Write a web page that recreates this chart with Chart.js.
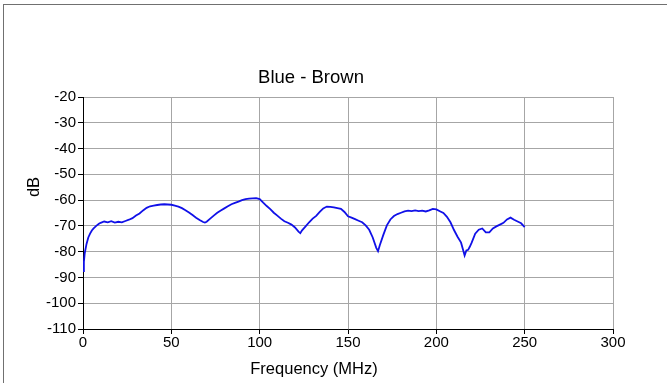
<!DOCTYPE html>
<html>
<head>
<meta charset="utf-8">
<script src="https://cdn.jsdelivr.net/npm/chart.js@4/dist/chart.umd.min.js"></script>
<style>
  html, body { margin: 0; padding: 0; background: #fff; }
  #wrap { width: 667px; height: 383px; }
</style>
</head>
<body>
<div id="wrap"><canvas id="chart" width="667" height="383"></canvas></div>
<script>
const chartTitle = "Blue - Brown";
const xTitle = "Frequency (MHz)";
const yTitle = "dB";

// frequency (MHz)
const freqs = [
    0, 0.5, 1, 2, 3, 4, 5, 6, 7.5, 9, 10, 12, 14, 16, 18, 20, 22, 24, 26, 28,
    30, 32, 34, 36, 38, 40, 42, 44, 46, 48, 50, 52, 54, 56, 58, 60, 62, 64, 66, 68,
    69, 70, 72, 74, 76, 78, 80, 82, 84, 86, 88, 90, 92, 94, 96, 98, 100, 102, 104, 106,
    108, 110, 112, 114, 116, 118, 120, 122, 123, 124, 126, 128, 130, 132, 134, 136, 138, 140, 142, 144,
    146, 148, 150, 152, 154, 156, 158, 160, 162, 164, 166, 167, 168, 170, 172, 174, 176, 178, 180, 182,
    184, 186, 188, 190, 192, 194, 196, 198, 200, 202, 204, 206, 208, 210, 212, 214, 215, 216, 217, 218,
    219, 220, 222, 224, 226, 228, 230, 232, 234, 236, 238, 240, 242, 244, 246, 248, 250
];

// attenuation (dB) at each frequency above
const dbValues = [
    -87.5, -84, -80.5, -77, -74.5, -73, -71.8, -71, -70, -69.2, -68.8, -68.3, -68.6, -68.2, -68.7, -68.4, -68.6, -68.1, -67.6, -67,
    -66, -65.2, -64, -63, -62.4, -62.1, -61.9, -61.7, -61.6, -61.7, -61.8, -62.1, -62.5, -63.1, -63.9, -64.8, -65.8, -66.8, -67.7, -68.5,
    -68.7, -68.4, -67.2, -66, -64.9, -64, -63.2, -62.4, -61.6, -61.1, -60.6, -60, -59.6, -59.4, -59.3, -59.2, -59.6, -61, -62.3, -63.5,
    -64.9, -66, -67.2, -68.2, -68.8, -69.5, -70.6, -72.2, -72.8, -71.7, -70.2, -68.6, -67.2, -66.1, -64.6, -63.2, -62.5, -62.6, -62.8, -63.1,
    -63.4, -64.6, -66.3, -66.8, -67.4, -68, -68.6, -69.8, -71.5, -74.5, -78.5, -79.8, -77.5, -73.5, -69.8, -67.5, -66.2, -65.4, -64.9, -64.4,
    -64.1, -64.3, -64, -64.3, -64.1, -64.4, -64, -63.4, -63.6, -64.3, -65, -66.5, -68.6, -71.6, -74.2, -76.5, -79, -81.5, -79.5, -79.3,
    -78, -76.5, -73, -71.5, -71, -72.5, -72.5, -71, -70.2, -69.5, -68.8, -67.5, -66.8, -67.6, -68.3, -69, -70.5
];

const xTicks = [0, 50, 100, 150, 200, 250, 300];
const yTicks = [-20, -30, -40, -50, -60, -70, -80, -90, -100, -110];

const points = freqs.map((f, i) => ({ x: f, y: dbValues[i] }));

const fontFamily = "'Liberation Sans', Arial, sans-serif";

// outer frame, plus the three titles (they sit off-centre in the original, so placed by hand)
const framePlugin = {
    id: "frame",
    beforeDraw(chart) {
        const ctx = chart.ctx;
        ctx.save();
        ctx.strokeStyle = "#707070";
        ctx.lineWidth = 1;
        ctx.strokeRect(3.5, 4.5, 720, 420);
        ctx.restore();
    },
    afterDraw(chart) {
        const ctx = chart.ctx;
        ctx.save();
        ctx.fillStyle = "#000";
        ctx.textAlign = "center";
        ctx.textBaseline = "middle";

        ctx.font = "18.5px " + fontFamily;
        ctx.fillText(chartTitle, 311, 78);

        ctx.font = "16.5px " + fontFamily;
        ctx.fillText(xTitle, 314, 369);

        ctx.translate(34, 187);
        ctx.rotate(-Math.PI / 2);
        ctx.fillText(yTitle, 0, 0);
        ctx.restore();
    }
};

const config = {
    type: "line",
    data: {
        datasets: [{
            data: points,
            borderColor: "#1010e8",
            borderWidth: 1.8,
            pointRadius: 0,
            tension: 0,
            fill: false
        }]
    },
    options: {
        responsive: false,
        animation: false,
        layout: {
            padding: { left: 26, right: 54, top: 97, bottom: 0 }
        },
        plugins: {
            legend: { display: false },
            tooltip: { enabled: false }
        },
        scales: {
            x: {
                type: "linear",
                min: 0,
                max: 300,
                afterBuildTicks: scale => { scale.ticks = xTicks.map(v => ({ value: v })); },
                afterFit: scale => { scale.height = 54; },
                ticks: {
                    color: "#000",
                    font: { family: fontFamily, size: 15 },
                    padding: 0,
                    maxRotation: 0
                },
                grid: {
                    color: "#a6a6a6",
                    tickColor: "#000",
                    tickLength: 5,
                    lineWidth: 1
                },
                border: { color: "#000", width: 1 },
                title: { display: false }
            },
            y: {
                type: "linear",
                min: -110,
                max: -20,
                afterBuildTicks: scale => { scale.ticks = yTicks.map(v => ({ value: v })); },
                afterFit: scale => { scale.width = 57; },
                ticks: {
                    color: "#000",
                    font: { family: fontFamily, size: 15 },
                    padding: 2
                },
                grid: {
                    color: "#a6a6a6",
                    tickColor: "#000",
                    tickLength: 5,
                    lineWidth: 1
                },
                border: { color: "#000", width: 1 },
                title: { display: false }
            }
        }
    },
    plugins: [framePlugin]
};

new Chart(document.getElementById("chart"), config);
</script>
</body>
</html>
